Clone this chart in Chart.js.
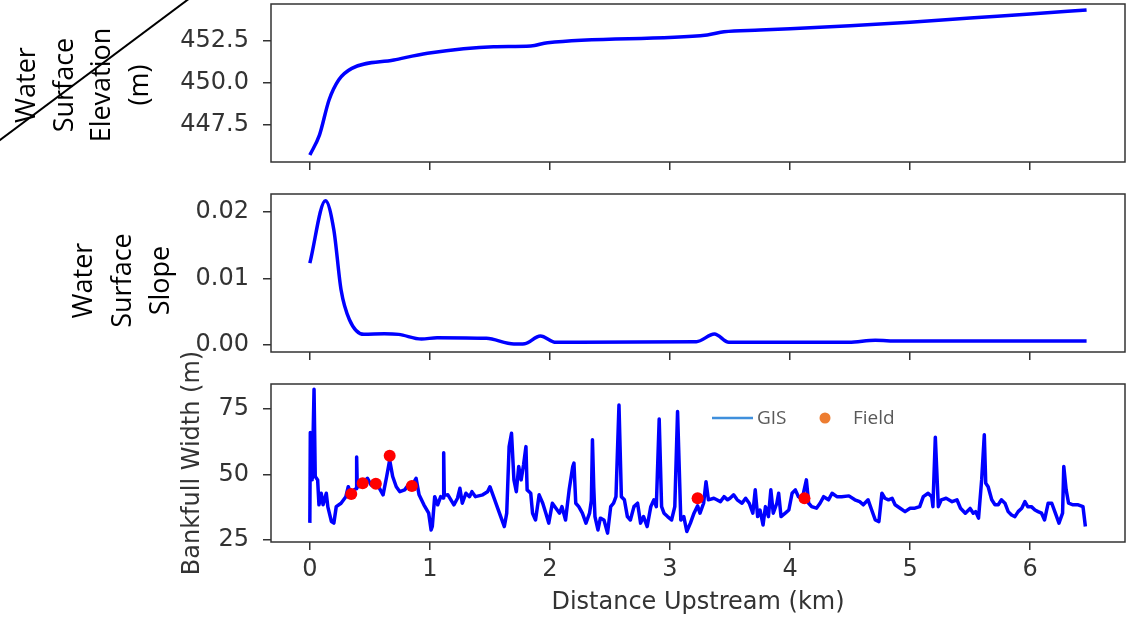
<!DOCTYPE html>
<html>
<head>
<meta charset="utf-8">
<script src="https://cdn.jsdelivr.net/npm/chart.js@4.4.1/dist/chart.umd.min.js"></script>
<style>
  body { margin: 0; background: #fff; }
  #pagina { position: relative; width: 1127px; height: 620px; overflow: hidden; background: #fff; }
  canvas { position: absolute; left: 0; }
  .rotulo {
    position: absolute;
    font-family: "Open Sans", sans-serif;
    font-size: 27px;
    color: #000;
    text-align: center;
    white-space: nowrap;
    transform: rotate(-90deg);
  }
  .legenda { position: absolute; font-family: "Open Sans", sans-serif; font-size: 19px; color: #595959; line-height: 24px; }
</style>
</head>
<body>
<div id="pagina">
  <canvas id="graficoElevacao" width="1127" height="185" style="top:0px"></canvas>
  <canvas id="graficoDeclividade" width="1127" height="190" style="top:185px"></canvas>
  <canvas id="graficoLargura" width="1127" height="290" style="top:330px"></canvas>

  <div class="rotulo" style="left:6px; top:10px; width:150px; height:150px; line-height:37.5px;">Water<br>Surface<br>Elevation<br>(m)</div>
  <div class="rotulo" style="left:63px; top:223px; width:115px; height:115px; line-height:38.5px;">Water<br>Surface<br>Slope</div>

  <svg style="position:absolute; left:0; top:0;" width="1127" height="620">
    <line x1="-2" y1="141.5" x2="190" y2="-2" stroke="#000" stroke-width="2"/>
    <line x1="712" y1="418" x2="753" y2="418" stroke="#3f8fdc" stroke-width="2.5"/>
    <circle cx="825" cy="418" r="5.5" fill="#ed7d31"/>
  </svg>
  <div class="legenda" style="left:757px; top:405px;">GIS</div>
  <div class="legenda" style="left:853px; top:405px;">Field</div>
</div>

<script>
const xTicks = [0, 1, 2, 3, 4, 5, 6];

const elevKm = [0, 0.08, 0.16, 0.24, 0.35, 0.7, 0.98, 1.53, 1.84, 1.98, 3.31, 3.45, 3.75, 4.5, 5.0, 5.5, 6.0, 6.47];
const elevM = [445.71, 446.9, 448.99, 450.18, 450.87, 451.37, 451.77, 452.16, 452.2, 452.4, 452.86, 453.05, 453.15, 453.4, 453.62, 453.87, 454.1, 454.35];
const elevTicks = [447.5, 450.0, 452.5];

const slopeKm = [0, 0.13, 0.2, 0.26, 0.33, 0.45, 0.62, 0.74, 0.93, 1.06, 1.47, 1.7, 1.79, 1.92, 2.05, 3.22, 3.37, 3.49, 4.49, 4.71, 4.9, 6.47];
const slopeVal = [0.0123, 0.0217, 0.0173, 0.0083, 0.0038, 0.0016, 0.0017, 0.0016, 0.0009, 0.0011, 0.001, 0.00015, 0.0002, 0.00135, 0.0004, 0.0005, 0.00165, 0.0004, 0.0004, 0.0007, 0.0006, 0.0006];
const slopeTicks = [0.0, 0.01, 0.02];

const widthKm = [
  0, 0.004, 0.02, 0.035, 0.045, 0.065, 0.076, 0.095, 0.11, 0.137, 0.15, 0.18, 0.2, 0.22, 0.26, 0.3, 0.32, 0.345, 0.37, 0.385,
  0.39, 0.395, 0.41, 0.44, 0.48, 0.51, 0.55, 0.58, 0.61, 0.64, 0.665, 0.69, 0.72, 0.75, 0.79, 0.83, 0.85, 0.885, 0.91, 0.95,
  0.99, 1.01, 1.02, 1.04, 1.065, 1.09, 1.11, 1.115, 1.12, 1.15, 1.175, 1.2, 1.23, 1.25, 1.27, 1.3, 1.33, 1.35, 1.38, 1.44,
  1.48, 1.5, 1.54, 1.56, 1.59, 1.62, 1.64, 1.66, 1.68, 1.7, 1.72, 1.74, 1.76, 1.78, 1.8, 1.81, 1.84, 1.855, 1.88, 1.91,
  1.94, 1.966, 1.99, 2.02, 2.05, 2.08, 2.1, 2.13, 2.16, 2.19, 2.2, 2.215, 2.24, 2.27, 2.3, 2.33, 2.345, 2.354, 2.365, 2.375,
  2.4, 2.42, 2.45, 2.48, 2.506, 2.53, 2.55, 2.575, 2.595, 2.62, 2.645, 2.67, 2.7, 2.73, 2.755, 2.78, 2.81, 2.84, 2.866, 2.886,
  2.91, 2.93, 2.95, 2.98, 3.013, 3.04, 3.063, 3.09, 3.115, 3.14, 3.17, 3.2, 3.23, 3.25, 3.28, 3.3, 3.32, 3.365, 3.39, 3.42,
  3.45, 3.48, 3.5, 3.53, 3.56, 3.6, 3.63, 3.66, 3.69, 3.71, 3.73, 3.75, 3.775, 3.795, 3.82, 3.84, 3.86, 3.89, 3.905, 3.925,
  3.96, 3.99, 4.017, 4.044, 4.07, 4.1, 4.136, 4.155, 4.18, 4.22, 4.25, 4.28, 4.32, 4.35, 4.39, 4.43, 4.49, 4.54, 4.58, 4.61,
  4.65, 4.68, 4.71, 4.74, 4.765, 4.79, 4.82, 4.85, 4.875, 4.917, 4.958, 5.0, 5.04, 5.08, 5.11, 5.15, 5.18, 5.19, 5.21, 5.235,
  5.26, 5.3, 5.35, 5.39, 5.42, 5.46, 5.5, 5.526, 5.546, 5.57, 5.596, 5.618, 5.63, 5.65, 5.68, 5.707, 5.734, 5.76, 5.79, 5.817,
  5.845, 5.873, 5.9, 5.93, 5.956, 5.98, 6.01, 6.04, 6.066, 6.095, 6.12, 6.15, 6.18, 6.21, 6.24, 6.27, 6.28, 6.3, 6.32, 6.357,
  6.4, 6.44, 6.46
];
const widthM = [
  31.5, 66, 48, 82.5, 49.2, 47.9, 38.4, 42.8, 38.4, 42.8, 37.6, 32, 31.4, 37.7, 39, 41.5, 45.3, 42.5, 44.1, 44.5,
  56.6, 45.3, 45.3, 46.6, 48.5, 46, 46.4, 44.7, 42.2, 49.2, 55.5, 49.2, 45.3, 43.4, 44.1, 46.6, 45.6, 48.5, 42.2, 38.4,
  35.2, 28.8, 30.1, 41.5, 38.4, 41.5, 41, 58.3, 42, 42.2, 40.3, 38.4, 40.9, 44.7, 39, 42.8, 41.5, 43.4, 41.5, 42.2,
  43.4, 45.3, 40.3, 37.7, 33.9, 30.1, 35.2, 60.6, 65.7, 47.9, 43.4, 53, 47.9, 53.6, 60.6, 44.1, 42.8, 35.2, 32.6, 42.2,
  39, 35.2, 31.4, 39, 37.1, 35.2, 37.7, 32.6, 44.1, 53, 54.3, 39, 37.7, 35.2, 31.4, 35.2, 40, 63.2, 45, 33.9,
  28.8, 33.3, 32.6, 27.6, 37.7, 39, 41.5, 76.5, 41.5, 40.3, 33.9, 32.6, 37.7, 39, 31.4, 33.9, 30.1, 37.7, 40.3, 37.7,
  71.1, 37.7, 35.2, 33.9, 32.6, 37.7, 74, 32.6, 33.9, 28.2, 31.4, 35.2, 38, 35.2, 39, 47.2, 40.3, 40.9, 40.3, 39.6,
  41.5, 40.3, 40.9, 42.2, 40.3, 39, 40.9, 39, 35.2, 44.1, 33.9, 36.4, 30.7, 37.7, 33.9, 44.1, 35.2, 39, 42.8, 33.9,
  35.2, 36.4, 42.8, 44.1, 41.5, 40.5, 47.9, 39, 37.7, 37.1, 39, 41.5, 40.3, 42.8, 41.5, 41.5, 41.8, 40.3, 39.6, 38.4,
  40.3, 36.4, 32.6, 32, 42.8, 40.9, 40.3, 40.9, 38.4, 37.1, 35.8, 37.1, 37.1, 37.7, 41.5, 42.8, 41.5, 37.7, 64.2, 37.7,
  40.3, 40.9, 39.6, 40.3, 37.1, 35.2, 37, 35.2, 35.8, 33.3, 47.9, 65.1, 46.6, 45.3, 40.3, 38.4, 38.4, 40.3, 39, 35.8,
  34.5, 33.9, 35.8, 37.1, 39.6, 37.7, 37.7, 36.4, 35.8, 35.2, 32.6, 39, 39, 35.2, 31.4, 35.2, 53, 44.1, 39, 38.4,
  38.4, 37.7, 30.1
];
const widthTicks = [25, 50, 75];

const fieldKm = [0.345, 0.44, 0.55, 0.665, 0.85, 3.23, 4.12];
const fieldM = [42.5, 46.6, 46.4, 57.1, 45.6, 40.9, 40.9];

const xMin = -0.3235;
const xMax = 6.79;
const fonteEixo = { family: "DejaVu Sans", size: 24 };
const corEixo = "#333";

function pontos(xs, ys) {
  return xs.map((x, i) => ({ x: x, y: ys[i] }));
}

// caixa completa em volta da area do grafico
const moldura = {
  id: "moldura",
  afterDraw(chart) {
    const { ctx, chartArea: a } = chart;
    ctx.save();
    ctx.strokeStyle = corEixo;
    ctx.lineWidth = 1.5;
    ctx.strokeRect(a.left, a.top, a.right - a.left, a.bottom - a.top);
    ctx.restore();
  },
};

function criarPainel(canvasId, datasets, cfg) {
  const ctx = document.getElementById(canvasId).getContext("2d");
  return new Chart(ctx, {
    type: "line",
    data: { datasets },
    plugins: [moldura],
    options: {
      responsive: false,
      animation: false,
      devicePixelRatio: 1,
      layout: { autoPadding: false, padding: { top: cfg.topo, left: 0, right: 2, bottom: 0 } },
      plugins: { legend: { display: false }, tooltip: { enabled: false } },
      scales: {
        x: {
          type: "linear",
          min: xMin,
          max: xMax,
          afterBuildTicks: (s) => (s.ticks = xTicks.map((v) => ({ value: v }))),
          afterFit: (s) => {
            s.height = cfg.alturaX;
            s.paddingLeft = 0;
            s.paddingRight = 0;
          },
          grid: { drawOnChartArea: false, drawTicks: true, tickLength: 8, color: corEixo, lineWidth: 1.5 },
          border: { display: false },
          ticks: { display: cfg.mostraX, font: fonteEixo, color: corEixo, padding: 5, maxRotation: 0 },
          title: cfg.tituloX
            ? { display: true, text: cfg.tituloX, font: fonteEixo, color: corEixo, padding: { top: 0, bottom: 3 } }
            : { display: false },
        },
        y: {
          min: cfg.yMin,
          max: cfg.yMax,
          afterBuildTicks: (s) => (s.ticks = cfg.yTicks.map((v) => ({ value: v }))),
          afterFit: (s) => {
            s.width = 271;
            s.paddingTop = 0;
            s.paddingBottom = 0;
          },
          grid: { drawOnChartArea: false, drawTicks: true, tickLength: 8, color: corEixo, lineWidth: 1.5 },
          border: { display: false },
          ticks: { font: fonteEixo, color: corEixo, padding: 14, callback: cfg.formato },
          title: cfg.tituloY
            ? { display: true, text: cfg.tituloY, font: fonteEixo, color: corEixo, padding: { top: 178.6, bottom: 0 } }
            : { display: false },
        },
      },
    },
  });
}

criarPainel(
  "graficoElevacao",
  [
    {
      data: pontos(elevKm, elevM),
      borderColor: "#0000ff",
      borderWidth: 3.5,
      pointRadius: 0,
      cubicInterpolationMode: "monotone",
    },
  ],
  { topo: 4, alturaX: 23, mostraX: false, yMin: 445.3, yMax: 454.7, yTicks: elevTicks, formato: (v) => v.toFixed(1) }
);

criarPainel(
  "graficoDeclividade",
  [
    {
      data: pontos(slopeKm, slopeVal),
      borderColor: "#0000ff",
      borderWidth: 3.5,
      pointRadius: 0,
      cubicInterpolationMode: "monotone",
    },
  ],
  { topo: 9, alturaX: 23, mostraX: false, yMin: -0.00105, yMax: 0.0227, yTicks: slopeTicks, formato: (v) => v.toFixed(2) }
);

// o canvas de baixo sobe um pouco para caber o titulo vertical inteiro
criarPainel(
  "graficoLargura",
  [
    {
      label: "Field",
      data: pontos(fieldKm, fieldM),
      showLine: false,
      pointRadius: 6,
      pointBackgroundColor: "#ff0000",
      pointBorderWidth: 0,
      order: 0,
    },
    {
      label: "GIS",
      data: pontos(widthKm, widthM),
      borderColor: "#0000ff",
      borderWidth: 3.5,
      borderJoinStyle: "round",
      pointRadius: 0,
      tension: 0,
      order: 1,
    },
  ],
  {
    topo: 54,
    alturaX: 78,
    mostraX: true,
    yMin: 24.2,
    yMax: 84.5,
    yTicks: widthTicks,
    formato: (v) => String(v),
    tituloX: "Distance Upstream (km)",
    tituloY: "Bankfull Width (m)",
  }
);
</script>
</body>
</html>
